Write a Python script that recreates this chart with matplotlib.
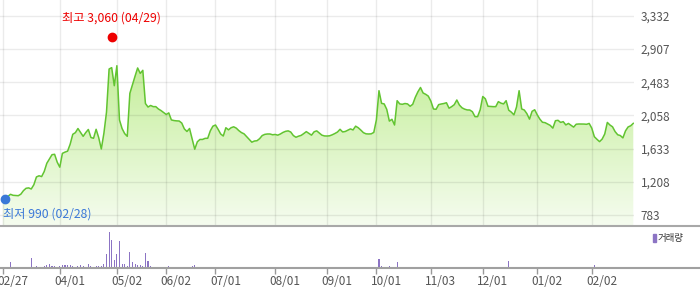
import numpy as np
import matplotlib
matplotlib.use('Agg')
import matplotlib.pyplot as plt
from matplotlib.colors import LinearSegmentedColormap
from matplotlib.transforms import ScaledTranslation

plt.rcParams['font.family'] = ['Noto Sans CJK KR', 'DejaVu Sans']

# Daily closing price (trading days from 02/27)
prices = [
    1005, 990, 1020, 1048, 1035, 1032, 1030, 1050, 1095, 1125,
    1130, 1116, 1170, 1270, 1285, 1275, 1340, 1445, 1500, 1555,
    1560, 1460, 1395, 1572, 1588, 1600, 1690, 1816, 1837, 1890,
    1840, 1790, 1838, 1878, 1775, 1765, 1880, 1773, 1628, 1830,
    2100, 2652, 2669, 2438, 2694, 2000, 1890, 1825, 1790, 2340,
    2450, 2560, 2665, 2596, 2635, 2210, 2165, 2185, 2170, 2170,
    2140, 2120, 2095, 2070, 2090, 2000, 1992, 1988, 1986, 1960,
    1885, 1852, 1890, 1760, 1625, 1720, 1750, 1750, 1764, 1765,
    1860, 1920, 1935, 1880, 1820, 1794, 1900, 1873, 1900, 1912,
    1895, 1863, 1838, 1822, 1786, 1750, 1715, 1730, 1734, 1760,
    1800, 1815, 1820, 1820, 1810, 1814, 1805, 1820, 1840, 1854,
    1860, 1845, 1800, 1778, 1792, 1802, 1825, 1850, 1828, 1805,
    1848, 1860, 1832, 1805, 1795, 1794, 1797, 1810, 1826, 1845,
    1880, 1846, 1852, 1868, 1885, 1872, 1920, 1900, 1870, 1837,
    1822, 1820, 1822, 1840, 2000, 2374, 2212, 2205, 2135, 1985,
    2008, 1935, 2246, 2205, 2200, 2210, 2205, 2175, 2200, 2290,
    2360, 2415, 2345, 2328, 2305, 2240, 2140, 2136, 2196, 2204,
    2210, 2220, 2150, 2170, 2195, 2255, 2190, 2155, 2138, 2128,
    2127, 2105, 2042, 2042, 2130, 2300, 2270, 2175, 2172, 2170,
    2170, 2234, 2215, 2205, 2246, 2125, 2100, 2065, 2165, 2374,
    2140, 2127, 2080, 2010, 2110, 2130, 2065, 2010, 1970, 1965,
    1948, 1930, 1895, 1990, 1995, 1968, 1978, 1936, 1955, 1932,
    1908, 1945, 1948, 1948, 1947, 1944, 1955, 1895, 1785, 1752,
    1722, 1755, 1820, 1968, 1935, 1912, 1850, 1810, 1800, 1770,
    1860, 1910, 1925, 1956,
]

# Daily volume (relative units)
volume = [
    0, 0, 0, 19, 0, 4, 0, 0, 0, 4,
    4, 31, 0, 7, 0, 4, 7, 10, 13, 7,
    7, 4, 7, 10, 10, 10, 10, 7, 4, 7,
    10, 7, 4, 13, 7, 4, 7, 7, 7, 13,
    43, 109, 85, 25, 43, 82, 13, 13, 7, 49,
    19, 13, 10, 10, 7, 46, 22, 7, 4, 4,
    4, 4, 4, 4, 7, 4, 4, 4, 4, 4,
    4, 4, 0, 7, 10, 4, 4, 4, 4, 0,
    0, 4, 4, 4, 4, 0, 4, 4, 0, 0,
    0, 0, 0, 0, 0, 0, 4, 0, 0, 0,
    4, 0, 0, 0, 0, 0, 0, 0, 0, 0,
    0, 0, 0, 0, 0, 0, 0, 0, 0, 0,
    0, 0, 0, 0, 0, 0, 0, 4, 0, 0,
    4, 0, 0, 0, 0, 0, 4, 0, 0, 0,
    0, 0, 0, 0, 4, 29, 7, 4, 4, 7,
    4, 4, 19, 4, 4, 0, 0, 0, 0, 4,
    4, 0, 0, 0, 0, 0, 0, 0, 0, 0,
    0, 0, 0, 0, 0, 4, 4, 0, 0, 0,
    0, 0, 0, 0, 4, 4, 0, 0, 0, 0,
    0, 0, 0, 0, 0, 23, 4, 0, 4, 4,
    4, 0, 0, 0, 0, 0, 0, 0, 4, 4,
    4, 0, 0, 0, 0, 0, 0, 0, 0, 0,
    0, 0, 0, 0, 4, 4, 4, 4, 10, 0,
    0, 0, 0, 4, 0, 0, 4, 0, 0, 0,
    0, 0, 0, 0,
]

tick_labels = ['02/27', '04/01', '05/02', '06/02', '07/01', '08/01',
               '09/01', '10/01', '11/03', '12/01', '01/02', '02/02']
tick_index = [0, 22, 44, 63, 82, 105, 125, 144, 165, 185, 206, 227]

y_ticks = [783, 1208, 1633, 2058, 2483, 2907, 3332]

high_idx, high_val, high_label = 42, 3060, '최고 3,060 (04/29)'
low_idx, low_val, low_label = 1, 990, '최저 990 (02/28)'

x = np.arange(len(prices))

fig = plt.figure(figsize=(7, 2.89), dpi=100)
W, H = 700, 289

# price panel: pixels 0..634 wide, 0..225 high (from top)
ax = fig.add_axes([0, (H - 225) / H, 634 / W, 225 / H])
# volume panel: full width, 226..268 from top
axv = fig.add_axes([0, (H - 268.3) / H, 1.0, 42.3 / H])

px_per_day = 2.595
xl = -2.7 / px_per_day
xr = xl + 634 / px_per_day
y_bot, y_top = 655, 3535

# gradient fill under the line
poly = ax.fill_between(x, prices, y_bot, color='none', lw=0)
cmap = LinearSegmentedColormap.from_list('g', ['#f5fcef', '#c4ee99'])
grad = np.linspace(0, 1, 256).reshape(-1, 1)
im = ax.imshow(grad, extent=[xl, xr, y_bot, 2750], origin='lower',
               aspect='auto', cmap=cmap, zorder=1)
im.set_clip_path(poly.get_paths()[0], transform=ax.transData)
ax.set_xlim(xl, xr)
ax.set_ylim(y_bot, y_top)

ax.plot(x, prices, color='#62c431', lw=1.1, zorder=3)

# grid
ax.set_yticks(y_ticks)
ax.set_yticklabels([f'{v:,}' for v in y_ticks])
ax.set_xticks(tick_index)
ax.set_xticklabels([])
ax.grid(True, color='#000000', alpha=0.08, lw=1, zorder=2)
ax.set_axisbelow(False)
ax.yaxis.tick_right()
ax.tick_params(axis='y', length=0, pad=5, labelsize=8.5, labelcolor='#555555')
ax.tick_params(axis='x', length=0)
for s in ax.spines.values():
    s.set_visible(False)

# high / low markers
ax.plot(high_idx, high_val, 'o', color='#ee0000', ms=6, zorder=4, clip_on=False)
ax.annotate(high_label, (high_idx, high_val), xytext=(0, 9), textcoords='offset points',
            ha='center', va='bottom', color='#ee0000', fontsize=8.8)
ax.plot(low_idx, low_val, 'o', color='#3a78d8', ms=6, zorder=4, clip_on=False)
ax.annotate(low_label, (low_idx, low_val), xytext=(-2, -6), textcoords='offset points',
            ha='left', va='top', color='#3a78d8', fontsize=8.8)

# volume panel
axv.bar(x, volume, width=0.42, color='#8c74c4', lw=0, antialiased=False)
axv.set_xlim(xl, xl + W / px_per_day)
axv.set_ylim(0, 127)
axv.set_yticks([])
axv.set_xticks(tick_index)
axv.set_xticklabels(tick_labels)
axv.tick_params(axis='x', direction='out', length=4, width=1, color='#999999',
                labelsize=8.5, labelcolor='#555555', pad=0.5)
for lab in axv.get_xticklabels():
    lab.set_transform(lab.get_transform() + ScaledTranslation(0.1, 0, fig.dpi_scale_trans))
for side in ['left', 'right']:
    axv.spines[side].set_visible(False)
axv.spines['top'].set_color('#a8a8a8')
axv.spines['top'].set_linewidth(1.5)
axv.spines['bottom'].set_color('#a0a0a0')
axv.spines['bottom'].set_linewidth(1.5)

# legend
fig.patches.append(plt.Rectangle((653 / W, (H - 242) / H), 3 / W, 8 / H,
                                 transform=fig.transFigure, color='#8c74c4'))
fig.text(658 / W, (H - 238) / H, '거래량', fontsize=6.8, color='#333333', va='center')

fig.savefig('out.png', dpi=100)
